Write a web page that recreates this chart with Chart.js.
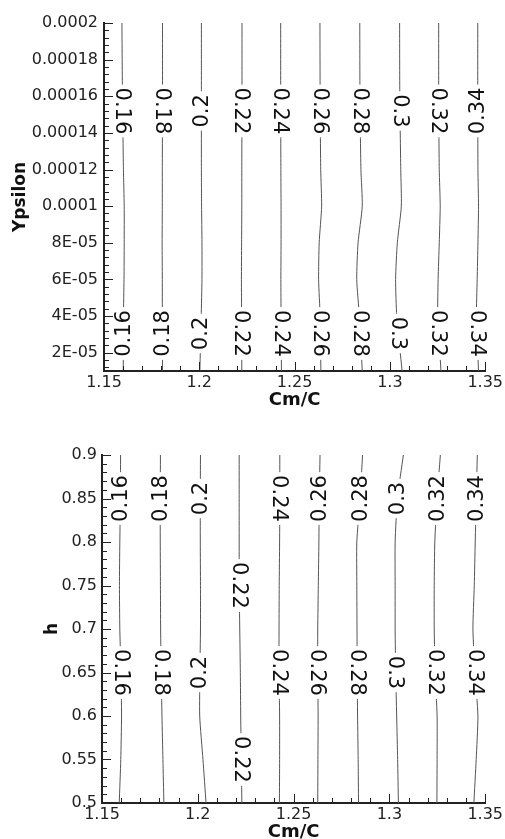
<!DOCTYPE html>
<html>
<head>
<meta charset="utf-8">
<script src="https://cdn.jsdelivr.net/npm/chart.js@4.4.1/dist/chart.umd.min.js"></script>
<style>
  html, body { margin: 0; padding: 0; background: #fff; overflow: hidden; }
  canvas { display: block; }
</style>
</head>
<body>
<canvas id="topChart" width="505" height="430"></canvas>
<canvas id="bottomChart" width="505" height="420"></canvas>
<script>
// contour levels, same in both panels
const levels = [0.16, 0.18, 0.2, 0.22, 0.24, 0.26, 0.28, 0.3, 0.32, 0.34];
const levelLabels = ['0.16', '0.18', '0.2', '0.22', '0.24', '0.26', '0.28', '0.3', '0.32', '0.34'];

const xTicks = [1.15, 1.2, 1.25, 1.3, 1.35];
const xTickLabels = ['1.15', '1.2', '1.25', '1.3', '1.35'];

// top panel: Cm/C of each contour, sampled at these Ypsilon values
const topY = [0.0002, 0.00016, 0.00012, 0.0001, 8e-5, 6e-5, 4e-5, 1e-5];
const topX = [
  [1.1594, 1.1597, 1.1602, 1.1606, 1.1606, 1.1605, 1.1602, 1.1601],
  [1.1807, 1.1807, 1.1806, 1.1806, 1.1805, 1.1806, 1.1806, 1.1807],
  [1.2011, 1.2011, 1.2011, 1.2012, 1.2014, 1.2014, 1.2010, 1.2003],
  [1.2224, 1.2224, 1.2223, 1.2223, 1.2222, 1.2221, 1.2222, 1.2223],
  [1.2427, 1.2427, 1.2428, 1.2429, 1.2429, 1.2428, 1.2429, 1.2431],
  [1.2633, 1.2634, 1.2637, 1.2642, 1.2629, 1.2626, 1.2634, 1.2638],
  [1.2842, 1.2843, 1.2848, 1.2855, 1.2833, 1.2826, 1.2840, 1.2855],
  [1.3051, 1.3052, 1.3057, 1.3060, 1.3039, 1.3030, 1.3036, 1.3064],
  [1.3256, 1.3256, 1.3259, 1.3264, 1.3259, 1.3253, 1.3251, 1.3268],
  [1.3461, 1.3461, 1.3462, 1.3465, 1.3462, 1.3458, 1.3454, 1.3465]
];
const topYTicks = [2e-5, 4e-5, 6e-5, 8e-5, 0.0001, 0.00012, 0.00014, 0.00016, 0.00018, 0.0002];
const topYTickLabels = ['2E-05', '4E-05', '6E-05', '8E-05', '0.0001', '0.00012', '0.00014', '0.00016', '0.00018', '0.0002'];
// Ypsilon where the contour labels sit (upper, lower)
const topLabelAt = [0.000152, 3.05e-5];

// bottom panel: Cm/C of each contour, sampled at these h values
const bottomY = [0.9, 0.85, 0.8, 0.75, 0.7, 0.65, 0.6, 0.55, 0.5];
const bottomX = [
  [1.1597, 1.1596, 1.1593, 1.1591, 1.1593, 1.1599, 1.1602, 1.1598, 1.1590],
  [1.1805, 1.1804, 1.1804, 1.1805, 1.1806, 1.1809, 1.1813, 1.1818, 1.1823],
  [1.2014, 1.2013, 1.2013, 1.2014, 1.2014, 1.2011, 1.2010, 1.2027, 1.2043],
  [1.2216, 1.2216, 1.2216, 1.2216, 1.2219, 1.2222, 1.2224, 1.2227, 1.2230],
  [1.2428, 1.2428, 1.2427, 1.2425, 1.2424, 1.2424, 1.2427, 1.2427, 1.2426],
  [1.2638, 1.2634, 1.2632, 1.2629, 1.2626, 1.2626, 1.2628, 1.2627, 1.2626],
  [1.2860, 1.2847, 1.2830, 1.2830, 1.2831, 1.2832, 1.2834, 1.2837, 1.2839],
  [1.3073, 1.3042, 1.3030, 1.3030, 1.3030, 1.3033, 1.3038, 1.3043, 1.3047],
  [1.3266, 1.3249, 1.3237, 1.3234, 1.3234, 1.3239, 1.3249, 1.3249, 1.3248],
  [1.3459, 1.3453, 1.3448, 1.3443, 1.3436, 1.3447, 1.3462, 1.3453, 1.3441]
];
const bottomYTicks = [0.5, 0.55, 0.6, 0.65, 0.7, 0.75, 0.8, 0.85, 0.9];
const bottomYTickLabels = ['0.5', '0.55', '0.6', '0.65', '0.7', '0.75', '0.8', '0.85', '0.9'];
// h where the contour labels sit (upper, lower), per level
const bottomLabelAt = [
  [0.85, 0.65], [0.85, 0.65], [0.85, 0.65], [0.75, 0.55], [0.85, 0.65],
  [0.85, 0.65], [0.85, 0.65], [0.85, 0.65], [0.85, 0.65], [0.85, 0.65]
];

// label turn in degrees (upper row, lower row)
const topTurn = [
  [90, 90, -90, 90, 90, 90, 90, 90, 90, -90],
  [-90, -90, -90, 90, 90, 90, 90, 90, 90, 90]
];
const bottomTurn = [
  [-90, -90, -90, 90, 90, -90, -90, -90, -90, -90],
  [90, 90, -90, 90, 90, 90, 90, 90, 90, 90]
];

function xAtY(data, yv) {
  for (let k = 0; k < data.length - 1; k++) {
    const a = data[k], b = data[k + 1];
    if ((yv - a.y) * (yv - b.y) <= 0) {
      return a.x + (yv - a.y) / (b.y - a.y) * (b.x - a.x);
    }
  }
  return data[0].x;
}

// labels written along the contour lines, line cut behind them
const contourLabels = {
  id: 'contourLabels',
  afterDatasetsDraw(chart, args, opts) {
    const ctx = chart.ctx, xs = chart.scales.x, ys = chart.scales.y;
    ctx.save();
    ctx.font = '21px "DejaVu Sans"';
    ctx.textAlign = 'center';
    ctx.textBaseline = 'middle';
    chart.data.datasets.forEach((ds, i) => {
      opts.at[i].forEach((yv, j) => {
        const px = xs.getPixelForValue(xAtY(ds.data, yv));
        const py = ys.getPixelForValue(yv);
        const w = ctx.measureText(ds.label).width;
        ctx.save();
        ctx.translate(px, py);
        ctx.rotate(opts.turn[j][i] * Math.PI / 180);
        ctx.fillStyle = '#fff';
        ctx.fillRect(-w / 2 - 3, -7, w + 6, 14);
        ctx.fillStyle = '#111';
        ctx.fillText(ds.label, 0, 1);
        ctx.restore();
      });
    });
    ctx.restore();
  }
};

// tecplot style ticks pointing into the plot
const innerTicks = {
  id: 'innerTicks',
  afterDraw(chart, args, opts) {
    const ctx = chart.ctx, area = chart.chartArea;
    ctx.save();
    ctx.strokeStyle = '#222';
    ctx.lineWidth = 1;
    [['x', opts.xMinor, opts.xMajor], ['y', opts.yMinor, opts.yMajor]].forEach(([id, minor, major]) => {
      const s = chart.scales[id];
      const k0 = Math.ceil(s.min / minor - 1e-6), k1 = Math.floor(s.max / minor + 1e-6);
      for (let k = k0; k <= k1; k++) {
        const v = k * minor;
        const r = v / major;
        const len = Math.abs(r - Math.round(r)) < 1e-6 ? 9 : 5;
        const p = Math.round(s.getPixelForValue(v)) + 0.5;
        ctx.beginPath();
        if (id === 'x') { ctx.moveTo(p, area.bottom); ctx.lineTo(p, area.bottom - len); }
        else { ctx.moveTo(area.left, p); ctx.lineTo(area.left + len, p); }
        ctx.stroke();
      }
    });
    ctx.restore();
  }
};

function makeChart(id, p) {
  const datasets = levels.map((lv, i) => ({
    label: levelLabels[i],
    data: p.yVals.map((y, k) => ({ x: p.xVals[i][k], y: y })),
    showLine: true,
    borderColor: '#555',
    borderWidth: 1,
    pointRadius: 0,
    tension: 0.2,
    fill: false
  }));
  const tickFont = { family: 'DejaVu Sans', size: 16 };
  return new Chart(document.getElementById(id), {
    type: 'scatter',
    data: { datasets },
    plugins: [contourLabels, innerTicks],
    options: {
      responsive: false,
      animation: false,
      layout: { padding: { left: 0, top: p.top, right: 18, bottom: 0 } },
      plugins: {
        legend: { display: false },
        tooltip: { enabled: false },
        contourLabels: { at: p.labelAt, turn: p.turn },
        innerTicks: { xMinor: 0.01, xMajor: 0.05, yMinor: p.yMinor, yMajor: p.yMajor }
      },
      scales: {
        x: {
          type: 'linear',
          min: 1.15,
          max: 1.35,
          afterFit: s => { s.height = p.xHeight; },
          afterBuildTicks: s => { s.ticks = xTicks.map(v => ({ value: v })); },
          grid: { display: false, drawTicks: false },
          border: { display: true, color: '#222', width: 2 },
          ticks: {
            autoSkip: false, maxRotation: 0, padding: 2, color: '#222', font: tickFont,
            callback: (v, i) => xTickLabels[i]
          },
          title: {
            display: true, text: 'Cm/C', color: '#111',
            font: { family: 'DejaVu Sans', size: 18, weight: 'bold' },
            padding: { top: 0, bottom: p.xTitlePad }
          }
        },
        y: {
          type: 'linear',
          min: p.yMin,
          max: p.yMax,
          afterFit: s => { s.width = p.yWidth; },
          afterBuildTicks: s => { s.ticks = p.yTicks.map(v => ({ value: v })); },
          grid: { display: false, drawTicks: false },
          border: { display: true, color: '#222', width: 2 },
          ticks: {
            autoSkip: false, padding: p.yTickPad, color: '#222', font: tickFont,
            callback: (v, i) => p.yTickLabels[i]
          },
          title: {
            display: true, text: p.yTitle, color: '#111',
            font: { family: 'DejaVu Sans', size: 17, weight: 'bold' },
            padding: { top: p.yTitlePad, bottom: 0 }
          }
        }
      }
    }
  });
}

makeChart('topChart', {
  yVals: topY, xVals: topX, yTicks: topYTicks, yTickLabels: topYTickLabels,
  yMin: 1e-5, yMax: 0.0002, yMinor: 4e-6, yMajor: 2e-5,
  labelAt: levels.map(() => topLabelAt), turn: topTurn,
  yTitle: 'Ypsilon', top: 23, yWidth: 104, xHeight: 59, xTitlePad: 19, yTickPad: 6, yTitlePad: 10
});

makeChart('bottomChart', {
  yVals: bottomY, xVals: bottomX, yTicks: bottomYTicks, yTickLabels: bottomYTickLabels,
  yMin: 0.5, yMax: 0.9, yMinor: 0.01, yMajor: 0.05,
  labelAt: bottomLabelAt, turn: bottomTurn,
  yTitle: 'h', top: 25, yWidth: 102, xHeight: 47, xTitlePad: 7, yTickPad: 5, yTitlePad: 42
});
</script>
</body>
</html>
